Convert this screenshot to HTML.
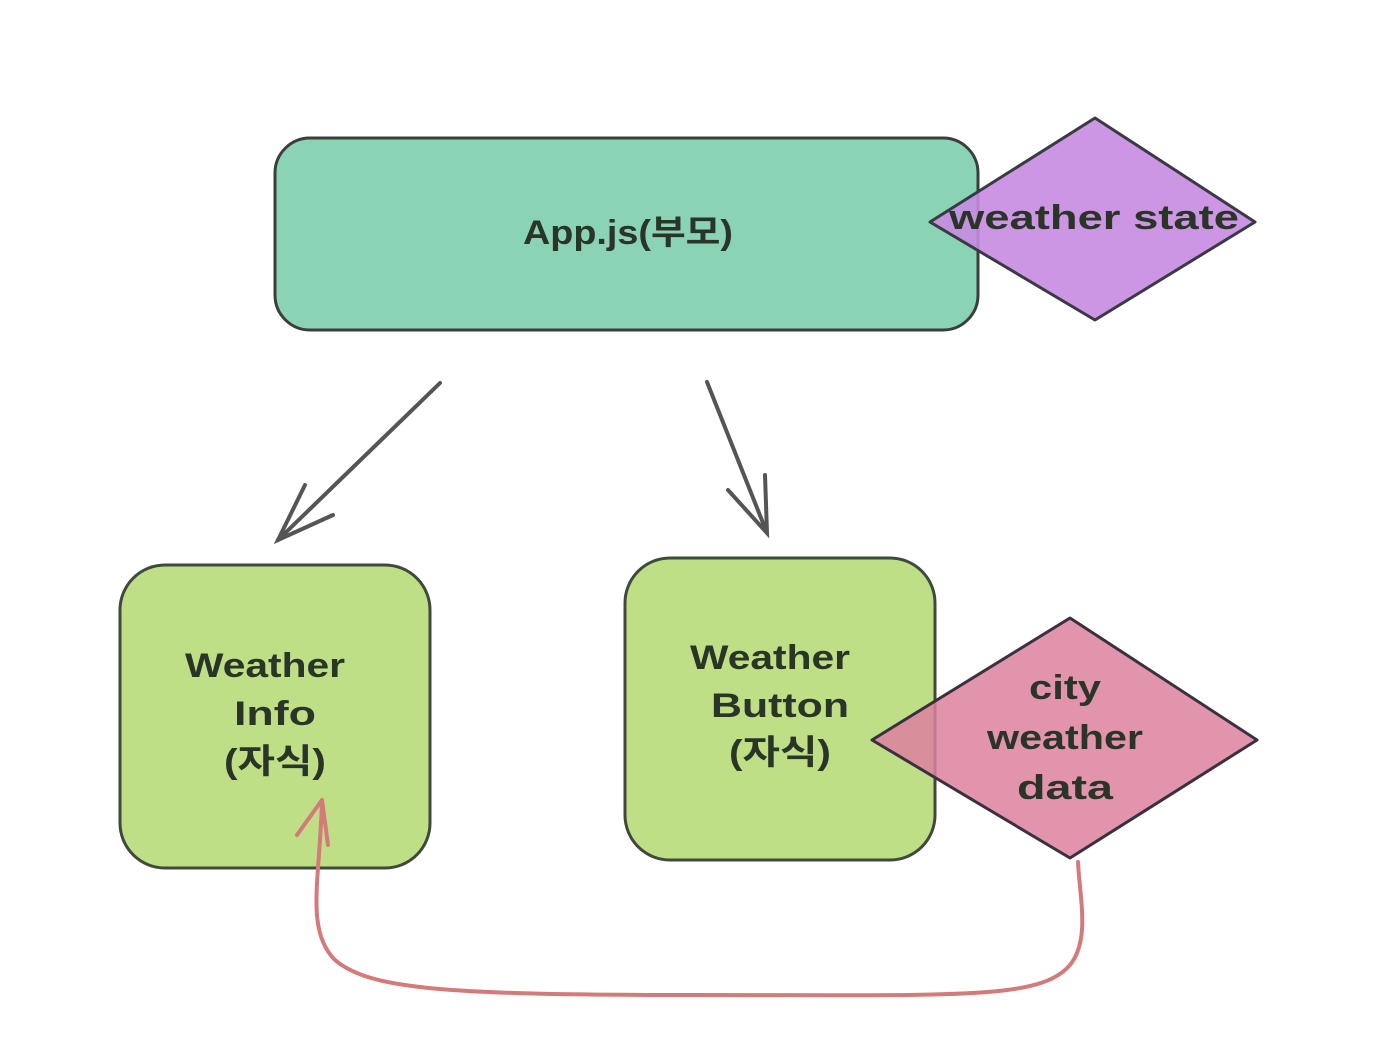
<!DOCTYPE html>
<html><head><meta charset="utf-8"><style>
html,body{margin:0;padding:0;background:#fff;}
svg{display:block;}
text{font-family:"Liberation Sans","Noto Sans CJK KR",sans-serif;fill:#2a3528;text-anchor:middle;dominant-baseline:middle;font-weight:bold;}
</style></head><body>
<svg width="1374" height="1062" viewBox="0 0 1374 1062" xmlns="http://www.w3.org/2000/svg">
<rect width="1374" height="1062" fill="#fff"/>
<rect x="275" y="138" width="703" height="192" rx="35" fill="#8ad3b5" stroke="#3a3f3c" stroke-width="3"/>
<polygon points="930,222 1095,118 1255,222 1095,320" fill="#c68be2" fill-opacity="0.9" stroke="#3a3a44" stroke-width="3" stroke-linejoin="round"/>
<text x="628" y="235" font-size="34" textLength="210" lengthAdjust="spacingAndGlyphs">App.js(부모)</text>
<text x="1094" y="220" font-size="34" textLength="290" lengthAdjust="spacingAndGlyphs">weather state</text>
<g stroke="#555" stroke-width="4" stroke-linecap="round" fill="none">
<line x1="440" y1="383" x2="278" y2="540"/>
<polyline points="305,485 278,540 333,515"/>
<line x1="707" y1="382" x2="767" y2="533"/>
<polyline points="728,490 767,533 765,475"/>
</g>
<rect x="120" y="565" width="310" height="303" rx="45" fill="#bedf86" stroke="#3f4a3c" stroke-width="3"/>
<rect x="625" y="558" width="310" height="302" rx="45" fill="#bedf86" stroke="#3f4a3c" stroke-width="3"/>
<polygon points="872,740 1070,618 1257,740 1070,858" fill="#dd819f" fill-opacity="0.85" stroke="#3a3040" stroke-width="3" stroke-linejoin="round"/>
<text x="265" y="668" font-size="34" textLength="160" lengthAdjust="spacingAndGlyphs">Weather</text>
<text x="275" y="716" font-size="34" textLength="82" lengthAdjust="spacingAndGlyphs">Info</text>
<text x="275" y="764" font-size="34" textLength="102" lengthAdjust="spacingAndGlyphs">(자식)</text>
<text x="770" y="660" font-size="34" textLength="160" lengthAdjust="spacingAndGlyphs">Weather</text>
<text x="780" y="708" font-size="34" textLength="138" lengthAdjust="spacingAndGlyphs">Button</text>
<text x="780" y="755" font-size="34" textLength="102" lengthAdjust="spacingAndGlyphs">(자식)</text>
<text x="1065" y="690" font-size="34" textLength="72" lengthAdjust="spacingAndGlyphs">city</text>
<text x="1065" y="740" font-size="34" textLength="156" lengthAdjust="spacingAndGlyphs">weather</text>
<text x="1065" y="790" font-size="34" textLength="96" lengthAdjust="spacingAndGlyphs">data</text>
<g stroke="#d47a7a" stroke-width="4" fill="none" stroke-linecap="round" stroke-linejoin="round">
<path d="M1078,862 C1080,900 1090,940 1070,965 C1040,1000 960,995 700,995 C450,995 370,990 335,960 C305,930 320,880 322,800"/>
<polyline points="297,835 322,800 328,845"/>
</g>
</svg>
</body></html>
